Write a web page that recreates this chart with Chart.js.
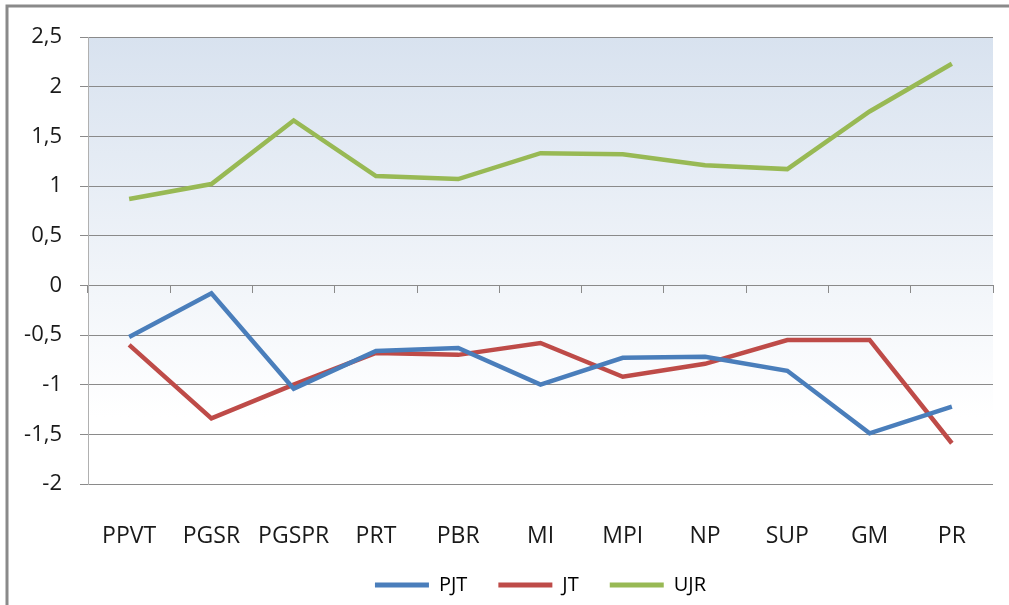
<!DOCTYPE html>
<html>
<head>
<meta charset="utf-8">
<script src="https://cdn.jsdelivr.net/npm/chart.js@4"></script>
<style>
  body { margin: 0; background: #fff; }
  canvas { display: block; }
</style>
</head>
<body>
<canvas id="chart" width="1009" height="605"></canvas>
<script>
// dữ liệu
const categories = ["PPVT", "PGSR", "PGSPR", "PRT", "PBR", "MI", "MPI", "NP", "SUP", "GM", "PR"];
const pjt = [-0.52, -0.08, -1.04, -0.66, -0.63, -1.00, -0.73, -0.72, -0.86, -1.49, -1.22];
const jt = [-0.60, -1.34, -1.00, -0.68, -0.70, -0.58, -0.92, -0.79, -0.55, -0.55, -1.59];
const ujr = [0.87, 1.02, 1.66, 1.10, 1.07, 1.33, 1.32, 1.21, 1.17, 1.75, 2.23];
const yMin = -2, yMax = 2.5, yStep = 0.5;

const FONT = "'Open Sans', sans-serif";

// nền trắng, khung xám và nền gradient cho vùng vẽ
const background = {
  id: "background",
  beforeDraw(chart) {
    const { ctx, chartArea: a, width, height } = chart;
    ctx.save();
    ctx.fillStyle = "#fff";
    ctx.fillRect(0, 0, width, height);
    ctx.strokeStyle = "#8a8a8a";
    ctx.lineWidth = 3;
    ctx.beginPath();
    ctx.moveTo(7, height);
    ctx.lineTo(7, 6);
    ctx.lineTo(width, 6);
    ctx.stroke();
    const g = ctx.createLinearGradient(0, a.top, 0, a.bottom);
    g.addColorStop(0, "#d8e2ef");
    g.addColorStop(0.85, "#ffffff");
    g.addColorStop(1, "#ffffff");
    ctx.fillStyle = g;
    ctx.fillRect(a.left, a.top, a.right - a.left, a.bottom - a.top);
    ctx.restore();
  }
};

function line(label, data, color) {
  return {
    label,
    data,
    borderColor: color,
    backgroundColor: color,
    borderWidth: 4.5,
    pointRadius: 0,
    tension: 0,
    xAxisID: "x"
  };
}

new Chart(document.getElementById("chart"), {
  type: "line",
  data: {
    labels: categories,
    datasets: [
      line("PJT", pjt, "#4a7ebb"),
      line("JT", jt, "#be4b48"),
      line("UJR", ujr, "#98b954")
    ]
  },
  options: {
    responsive: false,
    animation: false,
    layout: { padding: { left: 0, right: 16, top: 37, bottom: 0 } },
    plugins: {
      tooltip: { enabled: false },
      legend: {
        position: "bottom",
        fullSize: false,
        labels: {
          color: "#111",
          font: { family: FONT, size: 20 },
          boxWidth: 54,
          boxHeight: 5,
          padding: 31,
          generateLabels: (chart) => chart.data.datasets.map((ds, i) => ({
            text: ds.label,
            fillStyle: ds.borderColor,
            strokeStyle: ds.borderColor,
            lineWidth: 0,
            datasetIndex: i
          }))
        }
      }
    },
    scales: {
      x: {
        type: "category",
        offset: true,
        grid: { display: false, drawTicks: false },
        border: { display: false },
        ticks: { color: "#1a1a1a", font: { family: FONT, size: 23 }, padding: 39, maxRotation: 0 },
        afterFit: (s) => { s.height = 60; }
      },
      // trục phụ chỉ để vẽ vạch chia tại mức 0
      x0: {
        type: "category",
        position: { y: 0 },
        offset: true,
        grid: { offset: true, drawOnChartArea: false, tickLength: 8, color: "#8a8a8a" },
        border: { display: false },
        ticks: { display: false }
      },
      y: {
        min: yMin,
        max: yMax,
        ticks: {
          stepSize: yStep,
          color: "#1a1a1a",
          font: { family: FONT, size: 22 },
          padding: 18,
          callback: (v) => String(v).replace(".", ",")
        },
        grid: { color: "#8a8a8a", tickLength: 8 },
        border: { color: "#b0b0b0" },
        afterFit: (s) => { s.width = 88; }
      }
    }
  },
  plugins: [background]
});
</script>
</body>
</html>
